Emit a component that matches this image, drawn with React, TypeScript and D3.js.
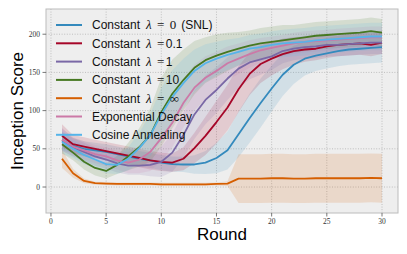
import React from "react";
import * as d3 from "d3";

// rounds 1..30
const rounds = d3.range(1, 31);

const snlMean = [60, 54, 50, 48, 46, 43, 40, 37, 35, 32, 30, 29.5, 29.5, 32, 38, 48, 69, 90, 110, 129, 147, 160, 168, 172, 175, 178, 180, 181, 182, 183];
const snlStd = [12, 10, 10, 10, 10, 10, 10, 10, 10, 10, 10, 10, 12, 15, 20, 25, 30, 32, 32, 30, 28, 25, 22, 20, 20, 20, 20, 20, 20, 20];

const lam01Mean = [67, 56, 53, 50, 47, 44, 41, 38, 35, 33, 32, 37, 51, 67, 85, 104, 128, 148, 161, 168, 174, 178, 180, 181, 184, 186, 187, 188, 186, 189];
const lam01Std = [15, 12, 12, 12, 12, 12, 12, 12, 12, 12, 12, 15, 20, 25, 28, 30, 30, 28, 25, 22, 20, 18, 16, 15, 15, 15, 15, 15, 15, 15];

const lam1Mean = [62, 52, 46, 40, 36, 31, 28, 28, 29, 33, 45, 68, 95, 114, 127, 142, 155, 163, 167, 171, 178, 181, 183, 184, 186, 186, 187, 188, 189, 189];
const lam1Std = [15, 12, 12, 12, 12, 12, 12, 12, 15, 20, 25, 30, 32, 32, 30, 28, 25, 22, 20, 18, 16, 15, 15, 15, 15, 15, 15, 15, 15, 15];

const lam10Mean = [56, 45, 33, 25, 21, 29, 40, 52, 68, 98, 122, 140, 156, 166, 172, 177, 181, 185, 188, 190, 192, 194, 196, 198, 199, 200, 201, 202, 204, 202];
const lam10Std = [12, 10, 10, 10, 10, 12, 18, 25, 35, 45, 45, 40, 35, 30, 28, 25, 22, 20, 20, 20, 20, 18, 18, 18, 18, 18, 18, 18, 18, 18];

const lamInfMean = [37, 18, 8, 5, 4.5, 4, 4, 4, 4, 3.5, 3.5, 3.5, 3.5, 3.5, 4, 4.5, 11, 11, 11, 11.5, 11.5, 11, 11, 11.5, 11.5, 11.5, 11.5, 11.5, 12, 11.5];
const lamInfStd = [12, 6, 3, 2, 2, 2, 2, 2, 2, 2, 2, 2, 2, 2, 2, 3, 32, 32, 32, 32, 32, 32, 32, 32, 32, 32, 32, 32, 32, 32];

const expMean = [62, 53, 48, 43, 40, 35, 32, 36, 46, 64, 84, 110, 130, 143, 152, 162, 168, 174, 179, 182, 185, 188, 190, 191, 192, 193, 194, 195, 196, 196];
const expStd = [15, 12, 12, 12, 12, 12, 14, 18, 25, 30, 32, 32, 30, 28, 25, 22, 20, 18, 16, 15, 14, 14, 14, 14, 14, 14, 14, 14, 14, 14];

const cosMean = [59, 50, 42, 36, 30, 29, 37, 51, 68, 95, 118, 136, 152, 162, 168, 173, 177, 181, 183, 186, 188, 189, 190, 192, 193, 194, 195, 196, 197, 197];
const cosStd = [15, 12, 12, 12, 12, 12, 15, 20, 28, 35, 35, 32, 28, 25, 22, 20, 18, 18, 18, 18, 18, 18, 18, 18, 18, 18, 18, 18, 18, 18];

const xTicks = [0, 5, 10, 15, 20, 25, 30];
const yTicks = [0, 50, 100, 150, 200];

// legend label pieces: text before λ, the value after "=", and a trailing text
const series = [
  { key: "snl", mean: snlMean, std: snlStd, color: "#348ABD", pre: "Constant ", lam: true, val: "0", valMath: true, post: " (SNL)" },
  { key: "l01", mean: lam01Mean, std: lam01Std, color: "#A60628", pre: "Constant ", lam: true, val: "0.1", valMath: false, post: "" },
  { key: "l1", mean: lam1Mean, std: lam1Std, color: "#7A68A6", pre: "Constant ", lam: true, val: "1", valMath: false, post: "" },
  { key: "l10", mean: lam10Mean, std: lam10Std, color: "#467821", pre: "Constant ", lam: true, val: "10", valMath: false, post: "" },
  { key: "linf", mean: lamInfMean, std: lamInfStd, color: "#D55E00", pre: "Constant ", lam: true, val: "∞", valMath: true, post: "" },
  { key: "exp", mean: expMean, std: expStd, color: "#CC79A7", pre: "Exponential Decay", lam: false, val: "", valMath: false, post: "" },
  { key: "cos", mean: cosMean, std: cosStd, color: "#56B4E9", pre: "Cosine Annealing", lam: false, val: "", valMath: false, post: "" },
];

const W = 407;
const H = 254;
const margin = { left: 46, right: 9, top: 9, bottom: 41 };

export default function App() {
  const x = d3.scaleLinear().domain([-0.45, 31.45]).range([margin.left, W - margin.right]);
  const y = d3.scaleLinear().domain([-34, 233]).range([H - margin.bottom, margin.top]);

  const line = (m: number[]) =>
    d3.line<number>().x((_, i) => x(rounds[i])).y((d) => y(d))(m) || "";
  const band = (m: number[], s: number[]) =>
    d3.area<number>()
      .x((_, i) => x(rounds[i]))
      .y0((d, i) => y(d - s[i]))
      .y1((d, i) => y(d + s[i]))(m) || "";

  const sans = "'Liberation Sans', Arial, sans-serif";
  const serif = "'Liberation Serif', 'DejaVu Serif', serif";
  const pw = W - margin.left - margin.right;
  const ph = H - margin.top - margin.bottom;

  return (
    <svg width={W} height={H} style={{ position: "absolute", left: 0, top: 0, background: "#fff" }}>
      <rect x={margin.left} y={margin.top} width={pw} height={ph} fill="#eeeeee" />
      {/* grid */}
      {xTicks.map((t) => (
        <line key={"gx" + t} x1={x(t)} x2={x(t)} y1={margin.top} y2={H - margin.bottom}
          stroke="#b2b2b2" strokeWidth={0.8} strokeDasharray="1,1.6" />
      ))}
      {yTicks.map((t) => (
        <line key={"gy" + t} x1={margin.left} x2={W - margin.right} y1={y(t)} y2={y(t)}
          stroke="#b2b2b2" strokeWidth={0.8} strokeDasharray="1,1.6" />
      ))}
      {/* bands */}
      {series.map((s) => (
        <path key={"b" + s.key} d={band(s.mean, s.std)} fill={s.color} fillOpacity={0.15} stroke="none" />
      ))}
      {/* lines */}
      {series.map((s) => (
        <path key={"l" + s.key} d={line(s.mean)} fill="none" stroke={s.color} strokeWidth={1.8} strokeLinejoin="round" />
      ))}
      {/* frame */}
      <rect x={margin.left} y={margin.top} width={pw} height={ph} fill="none" stroke="#bcbcbc" strokeWidth={1} />
      {/* ticks */}
      {xTicks.map((t) => (
        <g key={"tx" + t}>
          <line x1={x(t)} x2={x(t)} y1={H - margin.bottom} y2={H - margin.bottom + 3.5} stroke="#555" strokeWidth={0.8} />
          <text x={x(t)} y={H - margin.bottom + 11} textAnchor="middle" fontFamily={serif} fontSize={7.5} fill="#333">{t}</text>
        </g>
      ))}
      {yTicks.map((t) => (
        <g key={"ty" + t}>
          <line x1={margin.left - 3.5} x2={margin.left} y1={y(t)} y2={y(t)} stroke="#555" strokeWidth={0.8} />
          <text x={margin.left - 6} y={y(t) + 2.5} textAnchor="end" fontFamily={serif} fontSize={7.5} fill="#333">{t}</text>
        </g>
      ))}
      {/* axis labels */}
      <text x={margin.left + pw / 2} y={240} textAnchor="middle" fontFamily={sans} fontSize={17} fill="#000">Round</text>
      <text transform={`translate(23,${margin.top + ph / 2}) rotate(-90)`} textAnchor="middle" fontFamily={sans} fontSize={17} fill="#000">Inception Score</text>
      {/* legend */}
      {series.map((s, i) => {
        const ly = 25 + i * 18.3;
        return (
          <g key={"lg" + s.key}>
            <line x1={56} x2={82} y1={ly} y2={ly} stroke={s.color} strokeWidth={2} />
            <text x={92} y={ly + 4.3} fontFamily={sans} fontSize={12} fill="#111">
              <tspan>{s.pre}</tspan>
              {s.lam && <tspan dx={2.5} fontFamily={serif} fontStyle="italic" fontSize={13}>λ</tspan>}
              {s.lam && <tspan dx={5.5} fontFamily={serif} fontSize={13}>=</tspan>}
              {s.val && (
                <tspan dx={s.valMath ? 5.5 : 1.5} fontFamily={s.valMath ? serif : sans} fontSize={s.valMath ? 13 : 12}>{s.val}</tspan>
              )}
              {s.post && <tspan dx={1.5}>{s.post}</tspan>}
            </text>
          </g>
        );
      })}
    </svg>
  );
}
